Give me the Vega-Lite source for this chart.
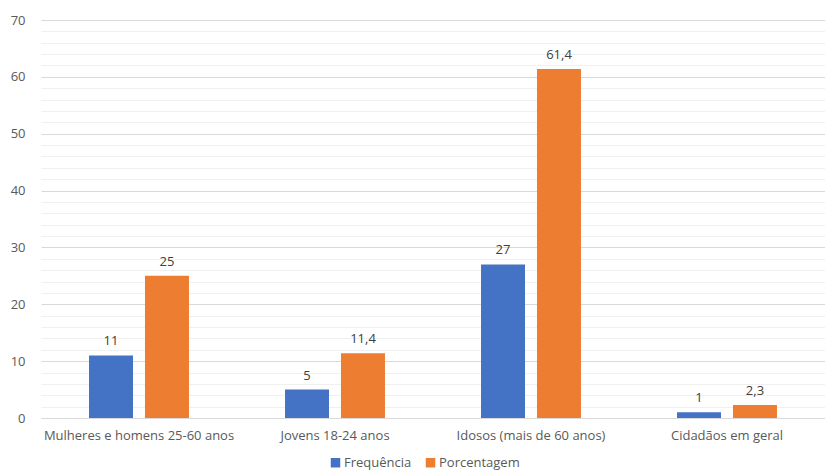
{
  "$schema": "https://vega.github.io/schema/vega-lite/v6.json",
  "width": 784,
  "height": 398,
  "autosize": {"type": "none"},
  "padding": {"left": 41, "top": 20, "right": 0, "bottom": 54},
  "background": "white",
  "config": {
    "locale": {"number": {"decimal": ",", "thousands": ".", "grouping": [3], "currency": ["", ""]}},
    "font": "Open Sans",
    "view": {"stroke": null}
  },
  "data": {
    "values": [
      {"grupo": "Mulheres e homens 25-60 anos", "serie": "Frequência", "valor": 11},
      {"grupo": "Mulheres e homens 25-60 anos", "serie": "Porcentagem", "valor": 25},
      {"grupo": "Jovens 18-24 anos", "serie": "Frequência", "valor": 5},
      {"grupo": "Jovens 18-24 anos", "serie": "Porcentagem", "valor": 11.4},
      {"grupo": "Idosos (mais de 60 anos)", "serie": "Frequência", "valor": 27},
      {"grupo": "Idosos (mais de 60 anos)", "serie": "Porcentagem", "valor": 61.4},
      {"grupo": "Cidadãos em geral", "serie": "Frequência", "valor": 1},
      {"grupo": "Cidadãos em geral", "serie": "Porcentagem", "valor": 2.3}
    ]
  },
  "encoding": {
    "x": {
      "field": "grupo",
      "type": "nominal",
      "sort": null,
      "title": null,
      "scale": {"paddingInner": 0.49, "paddingOuter": 0.245},
      "axis": {
        "labelAngle": 0,
        "labelFontSize": 13,
        "labelColor": "#595959",
        "labelPadding": 11,
        "labelLimit": 0,
        "ticks": false,
        "domainColor": "#d9d9d9",
        "grid": false
      }
    },
    "xOffset": {
      "field": "serie",
      "type": "nominal",
      "scale": {"paddingInner": 0.214, "paddingOuter": 0}
    },
    "y": {
      "field": "valor",
      "type": "quantitative",
      "title": null,
      "scale": {"domain": [0, 70], "nice": false},
      "axis": {
        "values": [0, 2, 4, 6, 8, 10, 12, 14, 16, 18, 20, 22, 24, 26, 28, 30, 32, 34, 36, 38, 40, 42, 44, 46, 48, 50, 52, 54, 56, 58, 60, 62, 64, 66, 68, 70],
        "labelExpr": "datum.value % 10 === 0 ? datum.label : ''",
        "labelFontSize": 13,
        "labelColor": "#595959",
        "labelPadding": 16,
        "ticks": false,
        "domain": false,
        "grid": true,
        "gridColor": {"condition": {"test": "datum.value % 10 === 0", "value": "#d9d9d9"}, "value": "#f0f0f0"},
        "gridWidth": 1
      }
    }
  },
  "layer": [
    {
      "mark": {"type": "bar"},
      "encoding": {
        "color": {
          "field": "serie",
          "type": "nominal",
          "scale": {"domain": ["Frequência", "Porcentagem"], "range": ["#4472C4", "#ED7D31"]},
          "legend": {
            "orient": "none",
            "legendX": 288,
            "legendY": 436,
            "direction": "horizontal",
            "title": null,
            "symbolType": "square",
            "symbolSize": 90,
            "symbolStrokeWidth": 0,
            "labelFontSize": 13,
            "labelColor": "#595959",
            "columnPadding": 12,
            "labelOffset": 2
          }
        }
      }
    },
    {
      "mark": {"type": "text", "baseline": "bottom", "dy": -7, "fontSize": 13, "color": "#404040"},
      "encoding": {
        "text": {"field": "valor", "type": "quantitative", "format": "~g"}
      }
    }
  ]
}
